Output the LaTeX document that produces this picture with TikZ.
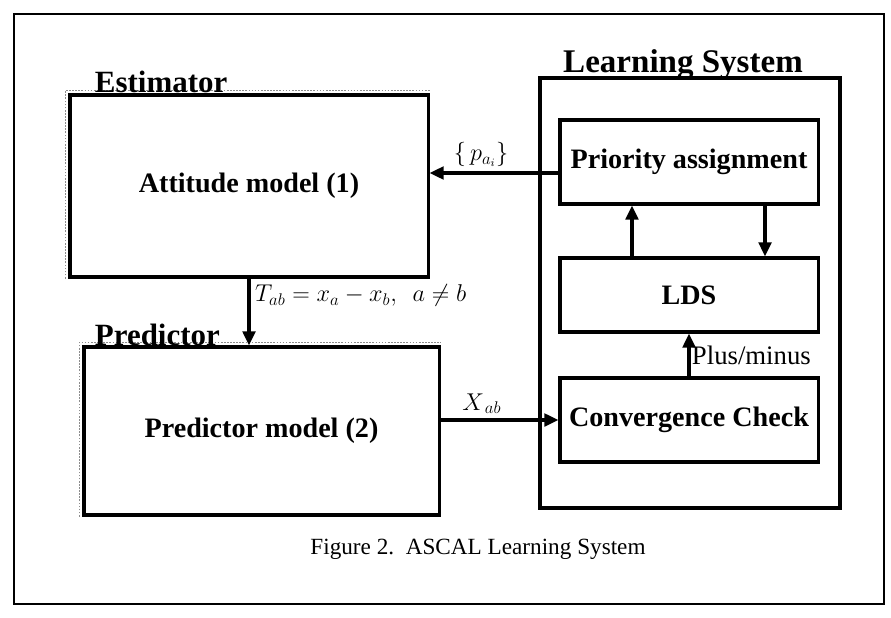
\documentclass[tikz,border=0pt]{standalone}
\usepackage{fontspec}
\setmainfont{Liberation Serif}
\usetikzlibrary{arrows.meta}

\tikzstyle{block} = [draw,line width=2.2pt,inner sep=0pt,font=\fontsize{20}{24}\selectfont\bfseries]
\tikzstyle{heading} = [font=\fontsize{22}{26}\selectfont\bfseries]
\tikzstyle{arr} = [line width=2.2pt,-{Triangle[length=10pt,width=9pt]}]
\tikzstyle{dotshadow} = [densely dotted,black!45,line width=1.2pt]
\tikzstyle{mathlabel} = [font=\fontsize{16.5}{20}\selectfont]

\begin{document}
\begin{tikzpicture}[x=0.025cm,y=-0.025cm]
\useasboundingbox (0,0) rectangle (891,617);
\draw[line width=2pt] (14,14) rectangle (884,604);

\node[block,minimum width=8.95cm,minimum height=4.55cm] at (249,186) (estbox) {Attitude model (1)};
\node[block,minimum width=8.875cm,minimum height=4.2cm] at (261.5,431) (predbox) {Predictor model (2)};
\draw[line width=2.2pt] (540,78) rectangle (840,508);
\foreach \y/\h/\n/\t in {162/2.1/prio/Priority assignment,295/1.85/lds/LDS,420/2.1/conv/Convergence Check}
	\node[block,minimum width=6.45cm,minimum height=\h cm] at (689,\y) (\n) {\t};

\draw[dotshadow] ([shift={(-3,0)}]estbox.south west) |- ([shift={(0,-3)}]estbox.north east);
\draw[dotshadow] ([shift={(-3,0)}]predbox.south west) |- ([shift={(0,-3)}]predbox.north east);

\node[heading,anchor=base west] at (90,93) (esttitle) {Estimator};
\node[heading,anchor=base west] at (90,345) (predtitle) {Predictor};
\node[heading,font=\fontsize{23.5}{28}\selectfont\bfseries,anchor=base] at (683,73) (learntitle) {Learning System};

\draw[arr] ([yshift=-0.275cm]prio.west) -- node[mathlabel,above,pos=0.6] {$\{\,p_{a_i}\}$} ([yshift=-0.275cm]prio.west -| estbox.east);
\draw[arr] (estbox.south) -- node[mathlabel,right,pos=0.25] {$T_{ab}=x_a-x_b,\ \ a\neq b$} (estbox.south |- predbox.north);
\draw[arr] (predbox.east |- conv.west) -- node[mathlabel,above,pos=0.35] {$X_{\,ab}$} (conv.west);
\draw[arr] ([xshift=-1.425cm]lds.north) -- ([xshift=-1.425cm]prio.south);
\draw[arr] ([xshift=1.9cm]prio.south) -- ([xshift=1.9cm]lds.north);
\draw[arr] (conv.north) -- node[right,font=\fontsize{19}{22}\selectfont,inner sep=1pt] {Plus/minus} (lds.south);

\node[font=\fontsize{16.5}{20}\selectfont] at (478,549) (caption) {Figure 2.\ \ ASCAL Learning System};
\end{tikzpicture}
\end{document}
